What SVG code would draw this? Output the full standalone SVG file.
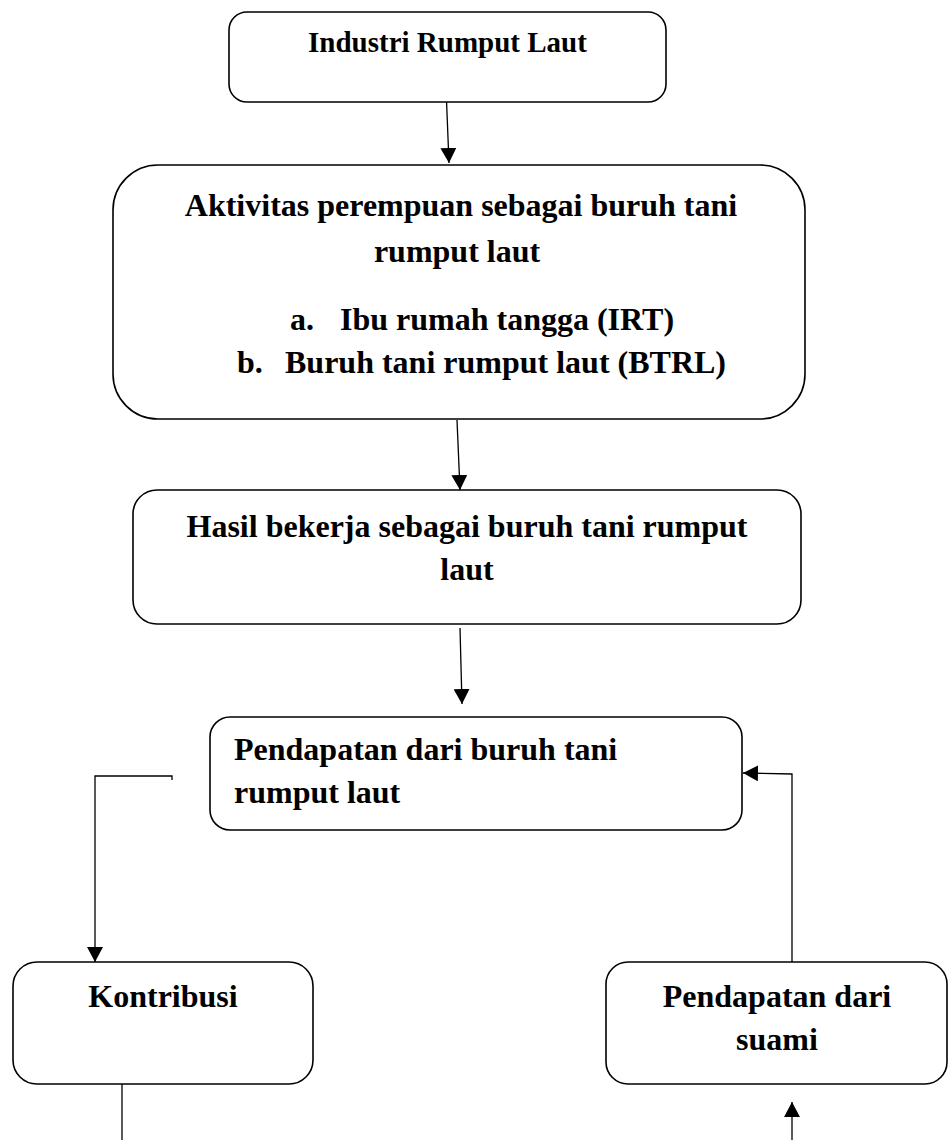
<svg xmlns="http://www.w3.org/2000/svg" width="949" height="1140" viewBox="0 0 949 1140">
<style>
.box{fill:#fff;stroke:#000;stroke-width:1.6}
.t{font-family:"Liberation Serif","Times New Roman",serif;font-weight:bold;font-size:32px;fill:#000}
.c{fill:none;stroke:#000;stroke-width:1.3}
</style>
<defs>
<marker id="ah" viewBox="0 0 15 16" refX="15" refY="8" markerWidth="15" markerHeight="16" markerUnits="userSpaceOnUse" orient="auto">
<path d="M0,0 L15,8 L0,16 Z" fill="#000"/>
</marker>
</defs>
<rect width="949" height="1140" fill="#fff"/>
<g id="connectors">
<line class="c" x1="446" y1="88" x2="449" y2="163" marker-end="url(#ah)"/>
<line class="c" x1="457" y1="420" x2="460" y2="490" marker-end="url(#ah)"/>
<line class="c" x1="460" y1="628" x2="462" y2="704" marker-end="url(#ah)"/>
<polyline class="c" points="172,780 172,776 95,776 95,962" marker-end="url(#ah)"/>
<polyline class="c" points="792,962 792,774 743,773" marker-end="url(#ah)"/>
<line class="c" x1="122" y1="1084" x2="122" y2="1140"/>
<line class="c" x1="792" y1="1140" x2="792" y2="1102" marker-end="url(#ah)"/>
</g>
<g id="n1">
<rect class="box" x="229" y="12" width="437" height="90" rx="18"/>
<text class="t" x="447.5" y="52" text-anchor="middle" style="font-size:29px">Industri Rumput Laut</text>
</g>
<g id="n2">
<rect class="box" x="113" y="165" width="692" height="254" rx="45"/>
<text class="t" x="461" y="216" text-anchor="middle">Aktivitas perempuan sebagai buruh tani</text>
<text class="t" x="457" y="262" text-anchor="middle">rumput laut</text>
<text class="t" y="330"><tspan x="290">a.</tspan><tspan x="340">Ibu rumah tangga (IRT)</tspan></text>
<text class="t" y="373"><tspan x="237">b.</tspan><tspan x="285">Buruh tani rumput laut (BTRL)</tspan></text>
</g>
<g id="n3">
<rect class="box" x="133" y="490" width="668" height="134" rx="24"/>
<text class="t" x="467" y="537" text-anchor="middle">Hasil bekerja sebagai buruh tani rumput</text>
<text class="t" x="467" y="580" text-anchor="middle">laut</text>
</g>
<g id="n4">
<rect class="box" x="210" y="717" width="532" height="113" rx="20"/>
<text class="t" x="234" y="760">Pendapatan dari buruh tani</text>
<text class="t" x="234" y="803">rumput laut</text>
</g>
<g id="n5">
<rect class="box" x="13" y="962" width="300" height="122" rx="24"/>
<text class="t" x="163" y="1007" text-anchor="middle">Kontribusi</text>
</g>
<g id="n6">
<rect class="box" x="606" y="962" width="341" height="122" rx="22"/>
<text class="t" x="777" y="1007" text-anchor="middle">Pendapatan dari</text>
<text class="t" x="777" y="1050" text-anchor="middle">suami</text>
</g>
</svg>
